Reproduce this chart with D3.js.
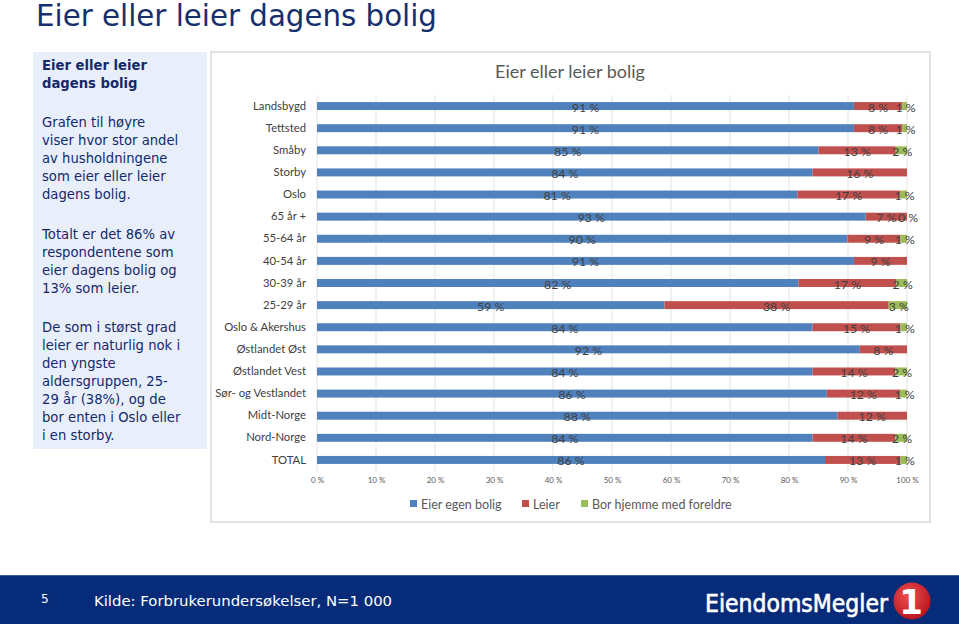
<!DOCTYPE html>
<html><head><meta charset="utf-8">
<script src="https://cdn.jsdelivr.net/npm/d3@7"></script>
<style>html,body{margin:0;padding:0;background:#fff;}svg{display:block;}</style>
</head><body>
<svg id="c" width="959" height="624"></svg>
<script>
// ---- data ----
const categories = ["Landsbygd","Tettsted","Småby","Storby","Oslo","65 år +","55-64 år","40-54 år","30-39 år","25-29 år","Oslo & Akershus","Østlandet Øst","Østlandet Vest","Sør- og Vestlandet","Midt-Norge","Nord-Norge","TOTAL"];
const eierEgenBolig = [91,91,85,84,81.4,93,89.9,91,81.6,58.9,84,92,84,86.4,88.2,84,86.1];
const leier = [8.2,8.2,13.1,16,17.4,7,9,9,16.6,38,14.9,8,14,12.4,11.8,14,12.8];
const borHjemme = [0.8,0.8,1.9,0,1.2,0,1.1,0,1.8,3.1,1.1,0,2,1.2,0,2,1.1];
const greenLabelShown = [true,true,true,false,true,true,true,false,true,true,true,false,true,true,false,true,true];
const seriesNames = ["Eier egen bolig","Leier","Bor hjemme med foreldre"];
const seriesColors = ["#4f81bd","#c0504d","#9bbb59"];
const xTicks = [0,10,20,30,40,50,60,70,80,90,100];
const panelHeading = ["Eier eller leier","dagens bolig"];
const panelParas = [
  ["Grafen til høyre","viser hvor stor andel","av husholdningene","som eier eller leier","dagens bolig."],
  ["Totalt er det 86% av","respondentene som","eier dagens bolig og","13% som leier."],
  ["De som i størst grad","leier er naturlig nok i","den yngste","aldersgruppen, 25-","29 år (38%), og de","bor enten i Oslo eller","i en storby."]
];

const svg = d3.select("#c");
const navy = "#13296b";

function fitText(sel, w){
  let fs = parseFloat(sel.attr("font-size"));
  for(let i=0;i<4;i++){ const l = sel.node().getComputedTextLength(); fs = fs*w/l; sel.attr("font-size",fs); }
}

// page title
const pt = svg.append("text").attr("x",36).attr("y",26).attr("font-family","DejaVu Sans, Verdana, sans-serif")
  .attr("font-size",27).attr("fill","#16306e").text("Eier eller leier dagens bolig");
fitText(pt, 401);

// left panel
svg.append("rect").attr("x",33).attr("y",52).attr("width",174).attr("height",397).attr("fill","#e9effa");
const pf = "DejaVu Sans, Verdana, sans-serif";
panelHeading.forEach((t,i)=>svg.append("text").attr("x",42).attr("y",70+i*18).attr("font-family",pf)
  .attr("font-size",13.2).attr("font-weight","bold").attr("fill",navy).text(t));
const paraStart = [127,239,332];
panelParas.forEach((p,pi)=>p.forEach((t,i)=>svg.append("text").attr("x",42).attr("y",paraStart[pi]+i*18)
  .attr("font-family",pf).attr("font-size",13.2).attr("fill",navy).text(t)));

// chart frame
svg.append("rect").attr("x",211).attr("y",52).attr("width",719).attr("height",470)
  .attr("fill","#fff").attr("stroke","#d9d9d9").attr("stroke-width",1.5);
const cf = "Lato, 'Open Sans', sans-serif";
svg.append("text").attr("x",570).attr("y",78).attr("text-anchor","middle").attr("font-family",cf)
  .attr("font-size",18).attr("fill","#595959").text("Eier eller leier bolig");

const x = d3.scaleLinear().domain([0,100]).range([317,907]);
const y = d3.scaleBand().domain(categories).range([95,471]).paddingInner(0.64).paddingOuter(0.32);

// gridlines
svg.append("g").selectAll("line").data(xTicks).join("line")
  .attr("x1",d=>x(d)).attr("x2",d=>x(d)).attr("y1",95).attr("y2",471)
  .attr("stroke","#e3e3e3").attr("stroke-width",1);

// x axis labels
const xAxis = d3.axisBottom(x).tickValues(xTicks).tickFormat(d=>d+" %").tickSize(0).tickPadding(0);
const gx = svg.append("g").attr("transform","translate(0,477)").call(xAxis);
gx.select(".domain").remove();
gx.selectAll("text").attr("font-family",cf).attr("font-size",8).attr("fill","#595959");

// y axis labels
const yAxis = d3.axisLeft(y).tickSize(0).tickPadding(0);
const gy = svg.append("g").attr("transform","translate(306,0)").call(yAxis);
gy.select(".domain").remove();
gy.selectAll("text").attr("font-family",cf).attr("font-size",11.3).attr("fill","#404040");

// stacked data
const rows = categories.map((c,i)=>({cat:c, v:[eierEgenBolig[i],leier[i],borHjemme[i]], g:greenLabelShown[i]}));
const stack = d3.stack().keys([0,1,2]).value((d,k)=>d.v[k]);
const stacked = stack(rows);
const layers = svg.append("g").selectAll("g").data(stacked).join("g").attr("fill",(d,i)=>seriesColors[i]);
layers.selectAll("rect").data(d=>d).join("rect")
  .attr("x",d=>x(d[0])).attr("width",d=>Math.max(0,x(d[1])-x(d[0])))
  .attr("y",d=>y(d.data.cat)).attr("height",y.bandwidth());

// labels
const lab = svg.append("g").attr("font-family",cf).attr("font-size",12.3).attr("fill","#404040").attr("text-anchor","middle");
stacked.forEach((layer,k)=>{
  layer.forEach(d=>{
    if(k===2 && !d.data.g) return;
    if(k<2 && d.data.v[k]===0) return;
    lab.append("text").attr("x",(x(d[0])+x(d[1]))/2 + (k===2 ? 1 : 0)).attr("y",y(d.data.cat)+y.bandwidth()/2+1)
      .attr("dominant-baseline","central").text(Math.round(d.data.v[k])+" %");
  });
});

// legend
const legX = [410,522,581];
seriesNames.forEach((n,i)=>{
  svg.append("rect").attr("x",legX[i]).attr("y",500).attr("width",7).attr("height",7).attr("fill",seriesColors[i]);
  svg.append("text").attr("x",legX[i]+11).attr("y",508.5).attr("font-family",cf).attr("font-size",12.5)
    .attr("fill","#595959").text(n);
});

// footer
svg.append("rect").attr("x",0).attr("y",575).attr("width",959).attr("height",49).attr("fill","#062b79");
svg.append("line").attr("x1",0).attr("x2",959).attr("y1",575.5).attr("y2",575.5).attr("stroke","#3a5aa0").attr("stroke-width",1);
svg.append("text").attr("x",41).attr("y",603).attr("font-family",pf).attr("font-size",12).attr("fill","#fff").text("5");
const kt = svg.append("text").attr("x",94).attr("y",606).attr("font-family",pf).attr("font-size",15)
  .attr("fill","#fff").text("Kilde: Forbrukerundersøkelser, N=1 000");
fitText(kt, 298);
const lt = svg.append("text").attr("x",705).attr("y",612).attr("font-family","'DejaVu Sans Condensed', 'Liberation Sans Narrow', Arial, sans-serif")
  .attr("font-stretch","condensed").attr("font-size",24).attr("fill","#fff")
  .attr("stroke","#fff").attr("stroke-width",0.6).text("EiendomsMegler");
fitText(lt, 183);
const grad = svg.append("defs").append("radialGradient").attr("id","rg").attr("cx","40%").attr("cy","35%").attr("r","70%");
grad.append("stop").attr("offset","0%").attr("stop-color","#f05050");
grad.append("stop").attr("offset","100%").attr("stop-color","#b5121b");
svg.append("circle").attr("cx",912).attr("cy",601).attr("r",18.5).attr("fill","url(#rg)");
svg.append("text").attr("x",911).attr("y",614).attr("text-anchor","middle").attr("font-family","DejaVu Sans, sans-serif")
  .attr("font-weight","bold").attr("font-size",34).attr("fill","#fff").text("1");
</script>
</body></html>
